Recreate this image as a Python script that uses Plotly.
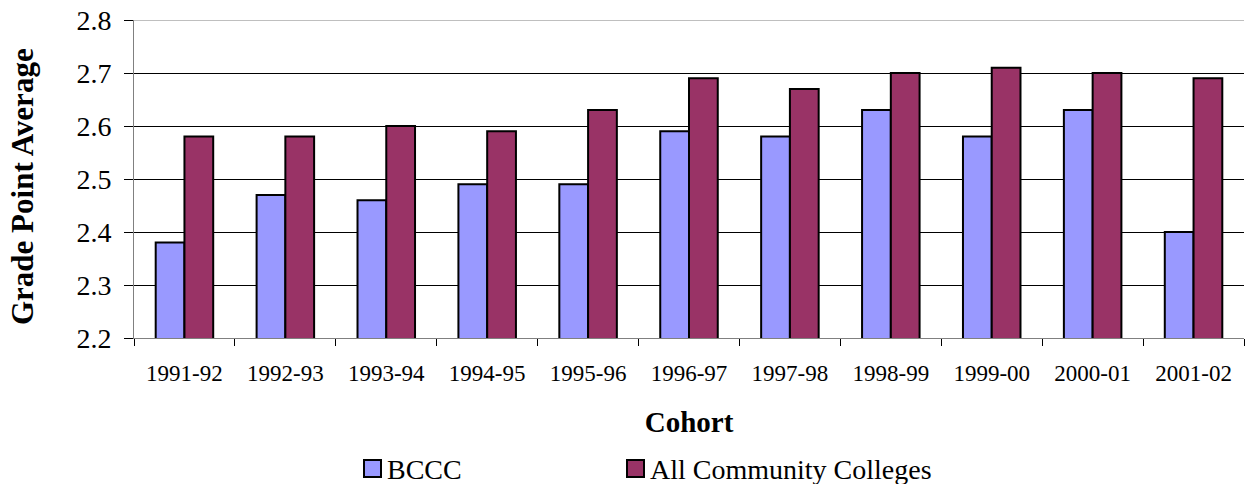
import plotly.graph_objects as go

cohorts = ["1991-92", "1992-93", "1993-94", "1994-95", "1995-96", "1996-97",
           "1997-98", "1998-99", "1999-00", "2000-01", "2001-02"]
bccc_gpa = [2.38, 2.47, 2.46, 2.49, 2.49, 2.59, 2.58, 2.63, 2.58, 2.63, 2.40]
all_cc_gpa = [2.58, 2.58, 2.60, 2.59, 2.63, 2.69, 2.67, 2.70, 2.71, 2.70, 2.69]
y_ticks = [2.2, 2.3, 2.4, 2.5, 2.6, 2.7, 2.8]

series_names = ["BCCC", "All Community Colleges"]
series_colors = ["#9999FF", "#993366"]
y_title = "Grade Point Average"

FONT = "Liberation Serif, Times New Roman, serif"
W, H = 1249, 484
L, R, T, B = 134, 5, 20, 146
PW, PH = W - L - R, H - T - B


def px_x(x):
    return (x - L) / PW


def px_y(y):
    return (H - B - y) / PH


fig = go.Figure()
for name, vals, col in zip(series_names, [bccc_gpa, all_cc_gpa], series_colors):
    fig.add_trace(go.Bar(
        x=cohorts, y=vals, name=name, showlegend=False,
        marker=dict(color=col, line=dict(color="black", width=2)),
    ))

# legend drawn as swatches + text below the axis title
legend_x = [363, 626]
shapes = []
annotations = []
for name, col, lx in zip(series_names, series_colors, legend_x):
    shapes.append(dict(
        type="rect", xref="paper", yref="paper",
        x0=px_x(lx + 1), x1=px_x(lx + 18), y0=px_y(460), y1=px_y(477),
        fillcolor=col, line=dict(color="black", width=2), layer="above",
    ))
    annotations.append(dict(
        text=name, xref="paper", yref="paper", x=px_x(lx + 22), y=px_y(469),
        xanchor="left", yanchor="middle", showarrow=False,
        font=dict(family=FONT, size=28, color="black"),
    ))

# vertical value-axis title
annotations.append(dict(
    text=f"<b>{y_title}</b>", xref="paper", yref="paper",
    x=px_x(22), y=px_y(187), xanchor="center", yanchor="middle",
    textangle=-90, showarrow=False,
    font=dict(family=FONT, size=31, color="black"),
))

# lighter line along the top of the plot area
shapes.append(dict(
    type="line", xref="paper", yref="y", x0=0, x1=1, y0=2.8, y1=2.8,
    line=dict(color="#808080", width=1), layer="above",
))

fig.update_layout(
    width=W, height=H,
    margin=dict(l=L, r=R, t=T, b=B),
    paper_bgcolor="white", plot_bgcolor="white",
    barmode="group", bargap=0.43, bargroupgap=0,
    font=dict(family=FONT, color="black"),
    shapes=shapes, annotations=annotations,
)
fig.update_xaxes(
    type="category",
    showline=True, linecolor="#808080", linewidth=1,
    ticks="outside", tickson="boundaries", ticklen=7, tickcolor="black",
    tickfont=dict(family=FONT, size=23), showgrid=False,
    ticklabelstandoff=14,
    title=dict(text="<b>Cohort</b>", font=dict(family=FONT, size=29), standoff=27),
)
fig.update_yaxes(
    range=[2.2, 2.8], tickvals=y_ticks, ticktext=[f"{v:.1f}" for v in y_ticks],
    showline=True, linecolor="#808080", linewidth=1,
    ticks="outside", ticklen=9, tickcolor="black",
    tickfont=dict(family=FONT, size=28), ticklabelstandoff=7,
    showgrid=True, gridcolor="black", gridwidth=1, zeroline=False,
)

fig.write_html("out.html")
